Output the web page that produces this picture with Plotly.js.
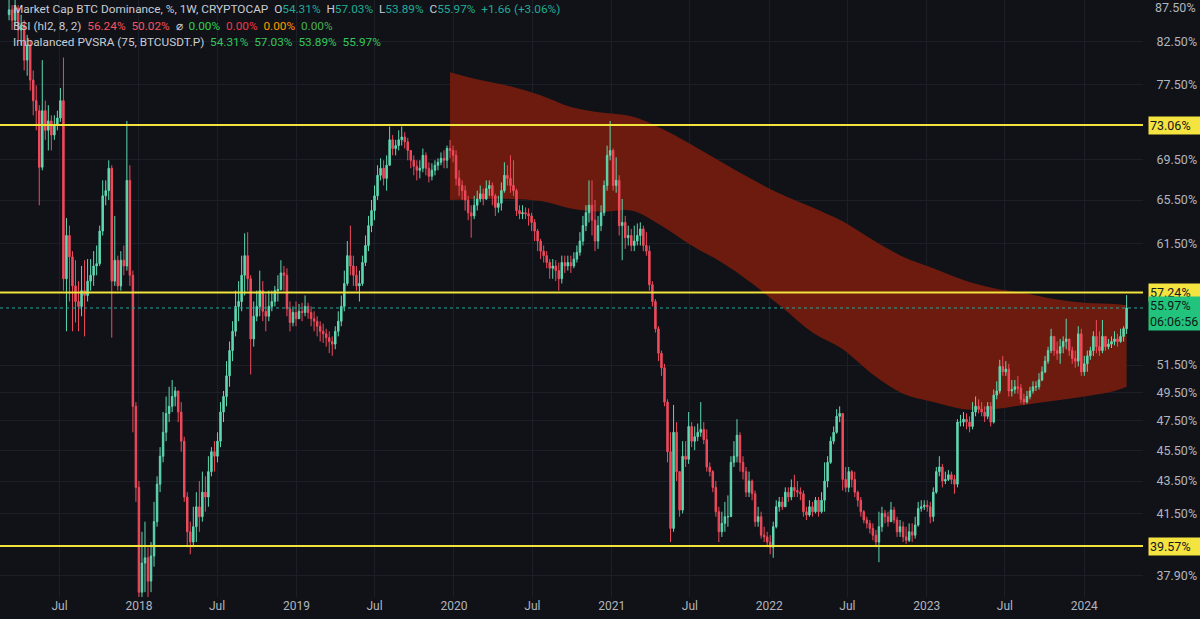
<!DOCTYPE html>
<html>
<head>
<meta charset="utf-8">
<script src="https://cdn.plot.ly/plotly-3.0.1.min.js"></script>
<style>
  html, body { margin: 0; padding: 0; background: #101218; }
  #chart { width: 1200px; height: 619px; }
</style>
</head>
<body>
<div id="chart"></div>
<script>
// ---- Data (weekly candles, CRYPTOCAP:BTC.D) ----
const weekStart = '2017-03-06';
const firstOpen = 85.8;
const closeVals = [
86.4,85.1,86.6,83.9,84.5,80.3,82.1,78.0,75.7,74.6,
68.7,74.6,72.5,73.5,72.0,73.1,73.8,75.7,58.4,62.2,
60.3,57.8,56.5,56.1,57.4,57.0,58.2,58.7,59.5,59.7,
62.6,65.9,66.4,68.6,58.2,60.0,57.8,60.0,59.5,67.4,
58.7,48.5,43.1,37.0,38.6,38.9,37.6,39.0,41.0,43.3,
45.1,46.7,48.0,48.5,49.2,49.6,48.1,46.1,42.5,40.4,
39.8,40.7,41.9,41.3,42.8,42.5,44.1,45.4,45.1,46.1,
48.1,49.2,50.7,52.6,54.1,56.1,56.5,58.7,60.4,58.4,
53.5,55.3,56.1,57.4,55.7,55.3,56.1,56.5,57.4,57.5,
58.9,58.7,55.9,54.8,55.6,55.1,55.7,55.6,56.1,55.6,
55.1,54.9,54.5,54.1,53.9,53.6,53.3,53.1,54.1,54.9,
56.1,58.0,60.4,59.5,58.7,57.8,58.0,59.8,61.3,63.1,
64.5,65.9,67.9,68.6,67.6,68.9,71.5,70.6,70.9,71.5,
71.8,71.3,70.4,69.4,68.8,68.4,68.6,69.9,68.6,67.8,
68.4,68.9,69.2,69.6,69.4,70.6,70.4,69.9,67.6,66.9,
66.4,65.5,64.3,64.0,65.0,65.6,66.1,65.6,66.6,66.9,
65.9,64.8,65.2,66.4,67.9,67.6,66.9,66.4,64.5,64.2,
64.3,64.2,64.0,63.4,62.6,61.7,60.8,60.4,59.8,59.3,
59.5,59.1,58.4,59.8,59.5,59.8,59.5,60.1,60.7,61.7,
63.1,64.3,65.0,63.6,61.7,63.1,64.3,66.9,69.9,70.4,
66.9,67.4,63.1,63.4,62.0,62.2,61.3,61.7,62.2,62.8,
61.3,60.8,57.9,56.5,54.3,52.4,51.3,48.8,45.4,40.6,
46.7,44.1,41.7,45.1,44.9,47.1,46.1,46.4,46.7,46.9,
46.2,44.4,44.1,43.1,41.6,40.4,40.9,41.3,41.3,44.7,
45.1,46.5,44.7,44.1,42.8,43.5,42.7,41.0,41.3,40.2,
40.1,39.8,39.5,40.7,41.9,42.2,41.9,42.8,42.5,43.1,
42.9,42.8,42.7,41.6,41.4,41.9,41.6,42.3,41.6,42.3,
43.5,44.7,46.1,46.7,47.8,48.0,43.6,43.1,44.1,43.6,
42.8,42.3,41.6,41.1,40.9,40.6,40.2,39.8,40.7,41.5,
41.3,41.0,41.7,41.1,40.4,40.7,40.1,39.9,40.4,40.2,
40.8,41.8,41.9,42.0,41.9,41.3,42.8,44.1,44.4,43.5,
43.6,43.9,43.6,43.3,47.4,47.4,47.6,47.4,47.1,48.1,
48.5,48.3,48.1,47.8,48.5,47.4,49.3,49.6,51.4,51.0,
51.2,49.6,49.7,49.9,49.8,49.0,48.8,49.2,49.6,49.9,
49.9,50.4,51.0,51.8,52.6,53.7,52.6,52.4,52.9,53.3,
53.5,52.6,52.0,51.8,53.9,51.0,51.6,52.2,52.6,53.7,
52.9,52.6,53.7,52.9,53.1,53.3,53.5,53.3,53.7,54.31,
55.97
];
const highVals = [
87.7,87.0,88.5,87.0,85.8,85.1,83.3,82.7,79.1,77.4,
75.2,80.3,75.7,75.2,74.1,74.1,74.6,77.1,80.6,63.8,
63.1,60.8,60.0,58.2,59.5,60.0,60.1,60.1,60.8,61.3,
63.1,67.4,67.4,69.4,68.9,64.0,60.4,60.8,61.3,73.5,
68.9,59.1,48.8,43.5,40.4,41.0,39.5,39.8,42.2,43.8,
45.7,48.1,49.2,49.9,50.4,49.9,49.6,48.8,46.4,42.8,
41.0,41.9,42.8,43.5,44.1,43.8,45.1,45.7,46.1,46.7,
48.8,49.6,51.8,53.3,54.9,57.4,58.2,60.4,62.4,62.5,
58.7,56.5,57.4,59.1,58.2,57.1,57.4,57.4,57.8,58.7,
60.0,59.5,59.3,56.5,56.1,56.5,56.3,56.4,57.0,56.4,
56.1,55.7,55.3,54.9,54.7,54.3,54.1,53.7,54.5,55.7,
57.0,59.1,61.7,63.1,60.4,59.5,59.1,60.4,62.2,64.0,
65.5,66.9,68.9,69.6,69.4,69.9,72.9,72.0,71.5,72.5,
72.9,72.3,71.7,70.4,69.9,69.4,69.4,70.6,70.2,69.2,
69.1,69.4,69.6,70.2,70.4,70.9,71.5,70.9,70.4,68.4,
67.4,66.9,65.9,65.0,65.9,66.4,66.9,66.6,67.4,67.4,
67.2,66.1,65.9,67.2,69.2,68.9,69.9,69.4,66.6,65.0,
65.0,64.8,64.7,64.3,63.7,62.8,61.9,61.3,60.8,60.1,
60.1,60.0,59.8,60.4,60.4,60.4,60.4,60.7,61.3,62.5,
64.0,65.0,67.4,67.4,65.5,64.0,65.0,67.4,70.9,73.5,
70.6,69.7,67.9,65.6,64.0,63.1,62.8,63.1,63.3,63.4,
63.1,62.5,61.3,58.2,56.7,54.5,52.6,51.6,49.0,46.7,
48.6,47.4,44.1,46.1,46.1,48.1,47.4,47.1,47.3,48.8,
47.4,46.9,44.7,44.2,43.5,41.9,41.6,42.2,42.6,45.1,
46.1,47.6,46.7,45.1,44.4,44.1,43.6,42.9,41.9,41.6,
40.7,40.4,40.2,41.0,42.3,42.5,42.5,43.1,43.1,43.6,
43.9,43.5,43.1,42.9,41.9,42.3,42.2,42.5,42.5,42.8,
44.7,45.1,46.4,47.1,48.3,48.5,48.0,44.4,44.4,44.2,
44.1,42.9,42.5,41.7,41.3,41.1,40.9,40.5,41.6,41.9,
41.7,41.6,42.2,41.9,41.3,41.1,41.0,40.7,40.9,40.9,
41.3,42.2,42.3,42.3,42.3,42.2,43.1,44.4,45.1,44.6,
44.1,44.2,44.1,43.9,47.6,47.9,48.1,48.0,47.8,48.8,
49.2,49.0,48.8,48.5,48.8,48.8,49.7,50.3,51.9,52.2,
51.8,51.6,50.4,50.4,50.7,50.1,49.4,49.6,49.9,50.3,
50.3,50.9,51.4,52.2,52.9,54.3,53.7,53.3,53.5,53.7,
55.1,53.5,52.9,52.6,54.5,54.3,52.2,52.6,52.9,54.1,
55.0,54.1,55.0,53.7,53.5,53.7,54.1,53.9,54.3,54.5,
57.03
];
const lowVals = [
85.1,83.9,84.5,82.7,82.1,79.1,78.5,76.8,74.1,72.5,
65.0,68.4,71.5,70.4,70.4,71.5,72.5,73.4,57.4,54.1,
56.5,54.1,54.8,54.1,55.3,53.7,56.5,57.4,57.8,58.7,
59.5,62.2,65.0,65.5,53.6,57.8,57.4,57.4,58.7,59.1,
57.8,46.7,42.2,35.5,36.0,37.0,36.7,37.0,38.4,40.7,
42.8,44.7,46.1,47.4,48.1,48.5,47.4,45.4,42.2,39.5,
39.1,39.5,39.8,40.4,41.0,41.6,41.9,43.8,44.1,44.7,
45.7,47.4,48.5,49.9,51.8,53.7,54.9,55.7,57.0,57.4,
50.8,52.9,54.9,55.3,54.9,54.1,54.9,55.7,56.1,56.5,
57.4,57.4,55.3,54.1,54.5,54.5,55.1,54.9,55.3,55.1,
54.5,54.1,53.7,53.3,53.2,52.9,52.4,52.2,52.7,53.7,
54.5,55.7,57.8,58.7,57.8,57.4,56.5,57.8,59.5,60.8,
62.5,63.6,65.5,67.4,66.9,66.4,68.9,69.9,69.9,70.4,
70.9,70.6,69.4,68.6,67.9,67.4,67.6,68.2,67.9,67.2,
67.4,67.9,68.4,68.9,68.6,68.6,69.6,69.2,66.9,65.9,
65.5,64.5,63.6,62.0,63.7,64.5,65.3,65.0,65.5,65.9,
65.0,64.0,64.3,64.5,66.2,66.9,66.2,65.9,64.0,63.7,
63.7,63.7,63.1,62.6,61.7,60.8,60.1,59.8,59.3,58.4,
58.4,58.2,57.4,58.0,58.9,59.1,58.9,59.3,59.8,60.4,
61.3,62.6,63.4,62.2,60.8,61.0,62.6,64.0,66.4,69.4,
66.4,66.2,62.2,60.0,61.0,61.3,60.8,60.8,61.3,61.3,
60.8,60.4,57.4,56.1,54.0,51.8,50.7,48.5,44.7,39.8,
40.4,43.5,41.3,41.5,44.4,44.6,45.7,45.5,46.1,46.4,
45.9,44.1,43.8,42.8,41.3,39.8,40.1,40.4,40.7,41.3,
44.4,44.7,44.1,43.6,42.5,42.5,42.3,40.7,40.7,40.0,
39.8,39.5,39.1,38.9,40.6,41.6,41.7,41.9,42.2,42.3,
42.5,42.5,42.3,41.3,41.1,41.3,41.3,41.5,41.3,41.5,
41.6,43.1,44.6,45.9,46.6,47.4,42.9,42.8,42.8,43.1,
42.5,41.9,41.3,40.9,40.6,40.3,39.9,39.5,38.65,40.4,
40.9,40.7,41.0,40.9,40.1,40.1,39.8,39.7,39.8,39.8,
40.0,40.7,41.6,41.7,41.6,40.9,41.0,42.7,43.8,43.1,
43.3,43.5,43.3,42.7,43.1,47.1,47.1,46.9,46.7,46.9,
47.8,48.0,47.8,47.4,47.6,47.1,47.3,49.0,49.4,50.7,
50.7,49.2,49.2,49.4,49.4,48.7,48.6,48.7,49.0,49.4,
49.6,49.7,50.3,50.9,51.6,52.4,52.2,51.9,51.6,52.4,
52.7,52.2,51.6,51.3,51.4,50.7,50.7,51.0,51.9,52.2,
52.4,52.2,52.4,52.6,52.7,52.8,53.0,52.9,53.2,53.3,
53.89
];

// Imbalanced PVSRA band (upper / lower edge, read at sample dates)
const bandDates = ['2019-12-23','2020-03-02','2020-05-11','2020-07-20','2020-09-28','2020-12-07',
  '2021-02-15','2021-04-26','2021-07-05','2021-09-13','2021-11-22','2022-01-31','2022-04-11',
  '2022-06-20','2022-08-29','2022-11-07','2023-01-16','2023-03-27','2023-06-05','2023-08-14',
  '2023-10-23','2024-01-01','2024-03-11','2024-04-08'];
const bandUpper = [78.9,78.0,77.3,76.3,75.0,74.4,74.0,72.7,71.0,69.2,67.5,66.0,64.8,63.5,61.8,60.3,59.3,58.3,57.6,57.2,56.7,56.4,56.3,56.2];
const bandLower = [65.5,65.6,65.6,65.4,64.7,64.4,64.5,63.1,61.3,59.8,58.0,56.0,54.0,52.7,50.8,49.4,48.8,48.3,48.3,48.6,48.9,49.2,49.6,49.9];

const levels = [73.06, 57.24, 39.57];
const lastPrice = 55.97;
const countdown = '06:06:56';
const topLabel = 87.5;
const yTickVals = [82.5, 77.5, 69.5, 65.5, 61.5, 51.5, 49.5, 47.5, 45.5, 43.5, 41.5, 37.9];
const xTickVals = ['2017-07-01','2018-01-01','2018-07-01','2019-01-01','2019-07-01','2020-01-01','2020-07-01',
  '2021-01-01','2021-07-01','2022-01-01','2022-07-01','2023-01-01','2023-07-01','2024-01-01'];
const xTickText = ['Jul','2018','Jul','2019','Jul','2020','Jul','2021','Jul','2022','Jul','2023','Jul','2024'];
const xRange = ['2017-02-13', '2024-05-16'];
const yRange = [36.74, 87.65];

// ---- build ----
const t0 = Date.parse(weekStart + 'T00:00:00Z');
const weeks = closeVals.map((_, i) => new Date(t0 + i * 7 * 86400000).toISOString().slice(0, 10));
const openVals = closeVals.map((c, i) => i === 0 ? firstOpen : closeVals[i - 1]);

const UP = '#5fd8b0', DN = '#f04a5c';
const FONT = 'Roboto, Inter, sans-serif';
const traces = [];
// band on the base subplot (below)
traces.push({ type: 'scatter', x: bandDates, y: bandLower, mode: 'lines', line: { width: 0, shape: 'spline' }, hoverinfo: 'skip', showlegend: false, xaxis: 'x', yaxis: 'y' });
traces.push({ type: 'scatter', x: bandDates, y: bandUpper, mode: 'lines', line: { width: 0, shape: 'spline' }, fill: 'tonexty', fillcolor: '#6d1b0e', hoverinfo: 'skip', showlegend: false, xaxis: 'x', yaxis: 'y' });
// candles + lines on the overlay subplot (above)
traces.push({
  type: 'candlestick', x: weeks, open: openVals, high: highVals, low: lowVals, close: closeVals,
  increasing: { line: { color: UP, width: 1 }, fillcolor: UP },
  decreasing: { line: { color: DN, width: 1 }, fillcolor: DN },
  whiskerwidth: 0, hoverinfo: 'skip', showlegend: false, xaxis: 'x2', yaxis: 'y2'
});
traces.push({ type: 'scatter', x: xRange, y: [lastPrice, lastPrice], mode: 'lines', line: { color: '#26a69a', width: 1, dash: 'dot' }, hoverinfo: 'skip', showlegend: false, xaxis: 'x2', yaxis: 'y2' });
levels.forEach(v => traces.push({ type: 'scatter', x: xRange, y: [v, v], mode: 'lines', line: { color: '#f2e23c', width: 2 }, hoverinfo: 'skip', showlegend: false, xaxis: 'x2', yaxis: 'y2' }));

const G = '#22ab94', R = '#f7525f', G2 = '#34c759';
const sp = '&nbsp;&nbsp;';
const c = (col, t) => `<span style="color:${col}">${t}</span>`;
const line1 = 'Market Cap BTC Dominance, %, 1W, CRYPTOCAP' + sp + 'O' + c(G, '54.31%') + sp + 'H' + c(G, '57.03%') + sp + 'L' + c(G, '53.89%') + sp + 'C' + c(G, '55.97%') + sp + c(G, '+1.66 (+3.06%)');
const line2 = 'BSI (hl2, 8, 2)' + sp + c(R, '56.24%') + sp + c(R, '50.02%') + sp + '⌀' + sp + c('#2fd14f', '0.00%') + sp + c('#f23645', '0.00%') + sp + c('#ff9800', '0.00%') + sp + c('#4caf50', '0.00%');
const line3 = 'Imbalanced PVSRA (75, BTCUSDT.P)' + sp + c(G2, '54.31%') + sp + c(G2, '57.03%') + sp + c(G2, '53.89%') + sp + c(G2, '55.97%');

const annotations = [];
[line1, line2, line3].forEach((t, k) => annotations.push({
  xref: 'paper', yref: 'paper', x: 0, y: 1, xanchor: 'left', yanchor: 'middle',
  xshift: 11, yshift: -(9 + 16.5 * k), text: t, showarrow: false, align: 'left',
  font: { family: FONT, size: 11.8, color: '#c9ccd4' }
}));
annotations.push({
  xref: 'paper', yref: 'y', x: 1, y: Math.log10(topLabel), xanchor: 'left', yanchor: 'middle', xshift: 10, yshift: -6,
  text: topLabel.toFixed(2) + '%', showarrow: false, font: { family: FONT, size: 12.5, color: '#b2b5be' }
});
levels.forEach(v => annotations.push({
  xref: 'paper', yref: 'y', x: 1, y: Math.log10(v), xanchor: 'left', yanchor: 'middle', xshift: 5,
  text: v.toFixed(2) + '%', showarrow: false, bgcolor: '#f5e33f', borderpad: 1, width: 50, align: 'left',
  font: { family: FONT, size: 12.5, color: '#131722' }
}));
annotations.push({
  xref: 'paper', yref: 'y', x: 1, y: Math.log10(lastPrice), xanchor: 'left', yanchor: 'middle', xshift: 5, yshift: -6,
  text: lastPrice.toFixed(2) + '%<br>' + countdown, showarrow: false, bgcolor: '#22c47d', borderpad: 1, width: 50, align: 'left',
  font: { family: FONT, size: 12.5, color: '#0e1a14' }
});

const axFont = { family: FONT, size: 12.5, color: '#b2b5be' };
const layout = {
  width: 1200, height: 619,
  margin: { l: 0, r: 57, t: 0, b: 22 },
  paper_bgcolor: '#101218', plot_bgcolor: '#101218',
  showlegend: false,
  xaxis: {
    type: 'date', range: xRange, rangeslider: { visible: false },
    tickmode: 'array', tickvals: xTickVals, ticktext: xTickText,
    showgrid: true, gridcolor: '#1c1f27', gridwidth: 1, zeroline: false, showline: false,
    ticks: '', tickfont: { family: FONT, size: 12, color: '#b2b5be' }
  },
  yaxis: {
    type: 'log', side: 'right', range: yRange.map(Math.log10),
    tickmode: 'array', tickvals: yTickVals, ticktext: yTickVals.map(v => v.toFixed(2) + '%'),
    showgrid: true, gridcolor: '#1c1f27', gridwidth: 1, zeroline: false, showline: false,
    ticks: 'outside', ticklen: 10, tickcolor: 'rgba(0,0,0,0)', tickfont: axFont
  },
  xaxis2: {
    type: 'date', range: xRange, overlaying: 'x', rangeslider: { visible: false },
    showgrid: false, showticklabels: false, zeroline: false, showline: false, ticks: ''
  },
  yaxis2: {
    type: 'log', range: yRange.map(Math.log10), overlaying: 'y', side: 'right',
    showgrid: false, showticklabels: false, zeroline: false, showline: false, ticks: ''
  },
  annotations: annotations
};

Plotly.newPlot('chart', traces, layout, { staticPlot: true, displayModeBar: false });
</script>
</body>
</html>
